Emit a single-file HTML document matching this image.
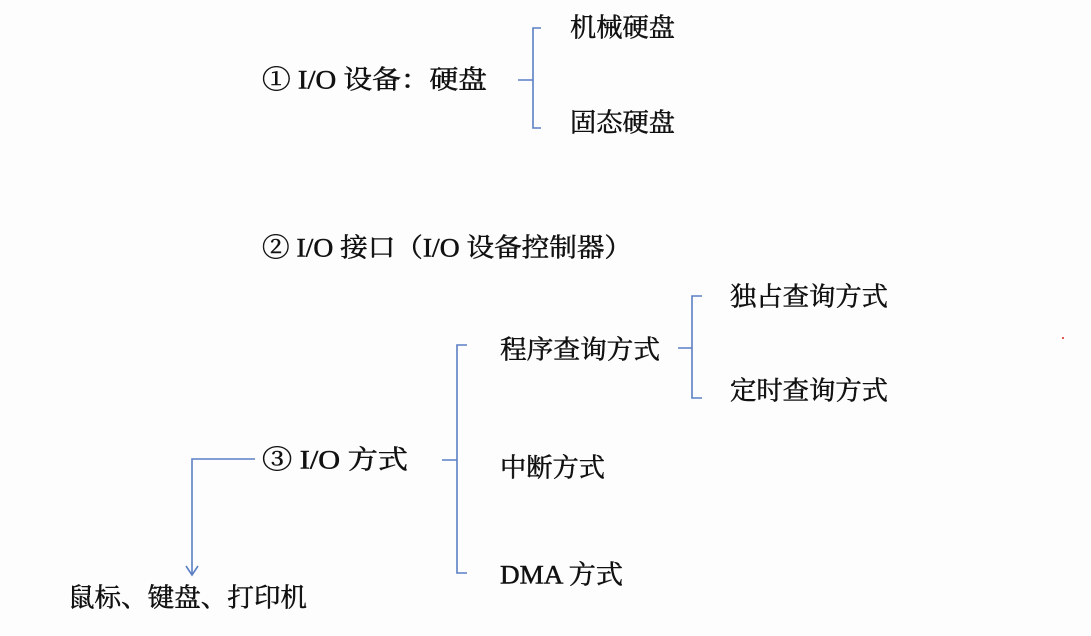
<!DOCTYPE html>
<html><head><meta charset="utf-8"><style>
html,body{margin:0;padding:0;background:#fdfdfd;}
svg{display:block}
text{font-family:"Liberation Serif","Noto Serif CJK SC",serif;font-size:26px;fill:#111;stroke:#111;stroke-width:0.5;dominant-baseline:central;}
</style></head><body>
<svg width="1091" height="636" viewBox="0 0 1091 636" xmlns="http://www.w3.org/2000/svg">
<g stroke="#5b7fc4" stroke-width="1.6" fill="none">
<path d="M518 80 H533 M541 28 H533 V128 H541"/>
<path d="M442 460 H457 M467 345 H457 V573 H467"/>
<path d="M678 348 H692 M702 296 H692 V398 H702"/>
<path d="M255 459 H192 V574"/>
<path d="M186 566 L192 575 L198 566"/>
</g>
<text x="262" y="80" textLength="225" lengthAdjust="spacingAndGlyphs">① I/O 设备：硬盘</text>
<text x="570" y="28" textLength="105" lengthAdjust="spacingAndGlyphs">机械硬盘</text>
<text x="570" y="123" textLength="105" lengthAdjust="spacingAndGlyphs">固态硬盘</text>
<text x="262" y="248" textLength="370" lengthAdjust="spacingAndGlyphs">② I/O 接口（I/O 设备控制器）</text>
<text x="500" y="350" textLength="160" lengthAdjust="spacingAndGlyphs">程序查询方式</text>
<text x="730" y="297" textLength="158" lengthAdjust="spacingAndGlyphs">独占查询方式</text>
<text x="730" y="391" textLength="158" lengthAdjust="spacingAndGlyphs">定时查询方式</text>
<text x="262" y="460" textLength="146" lengthAdjust="spacingAndGlyphs">③ I/O 方式</text>
<text x="500" y="468" textLength="105" lengthAdjust="spacingAndGlyphs">中断方式</text>
<text x="500" y="575" textLength="123" lengthAdjust="spacingAndGlyphs">DMA 方式</text>
<text x="68" y="598" textLength="239" lengthAdjust="spacingAndGlyphs">鼠标、键盘、打印机</text>
<circle cx="1063" cy="338" r="1" fill="#d22"/>
</svg>
</body></html>
